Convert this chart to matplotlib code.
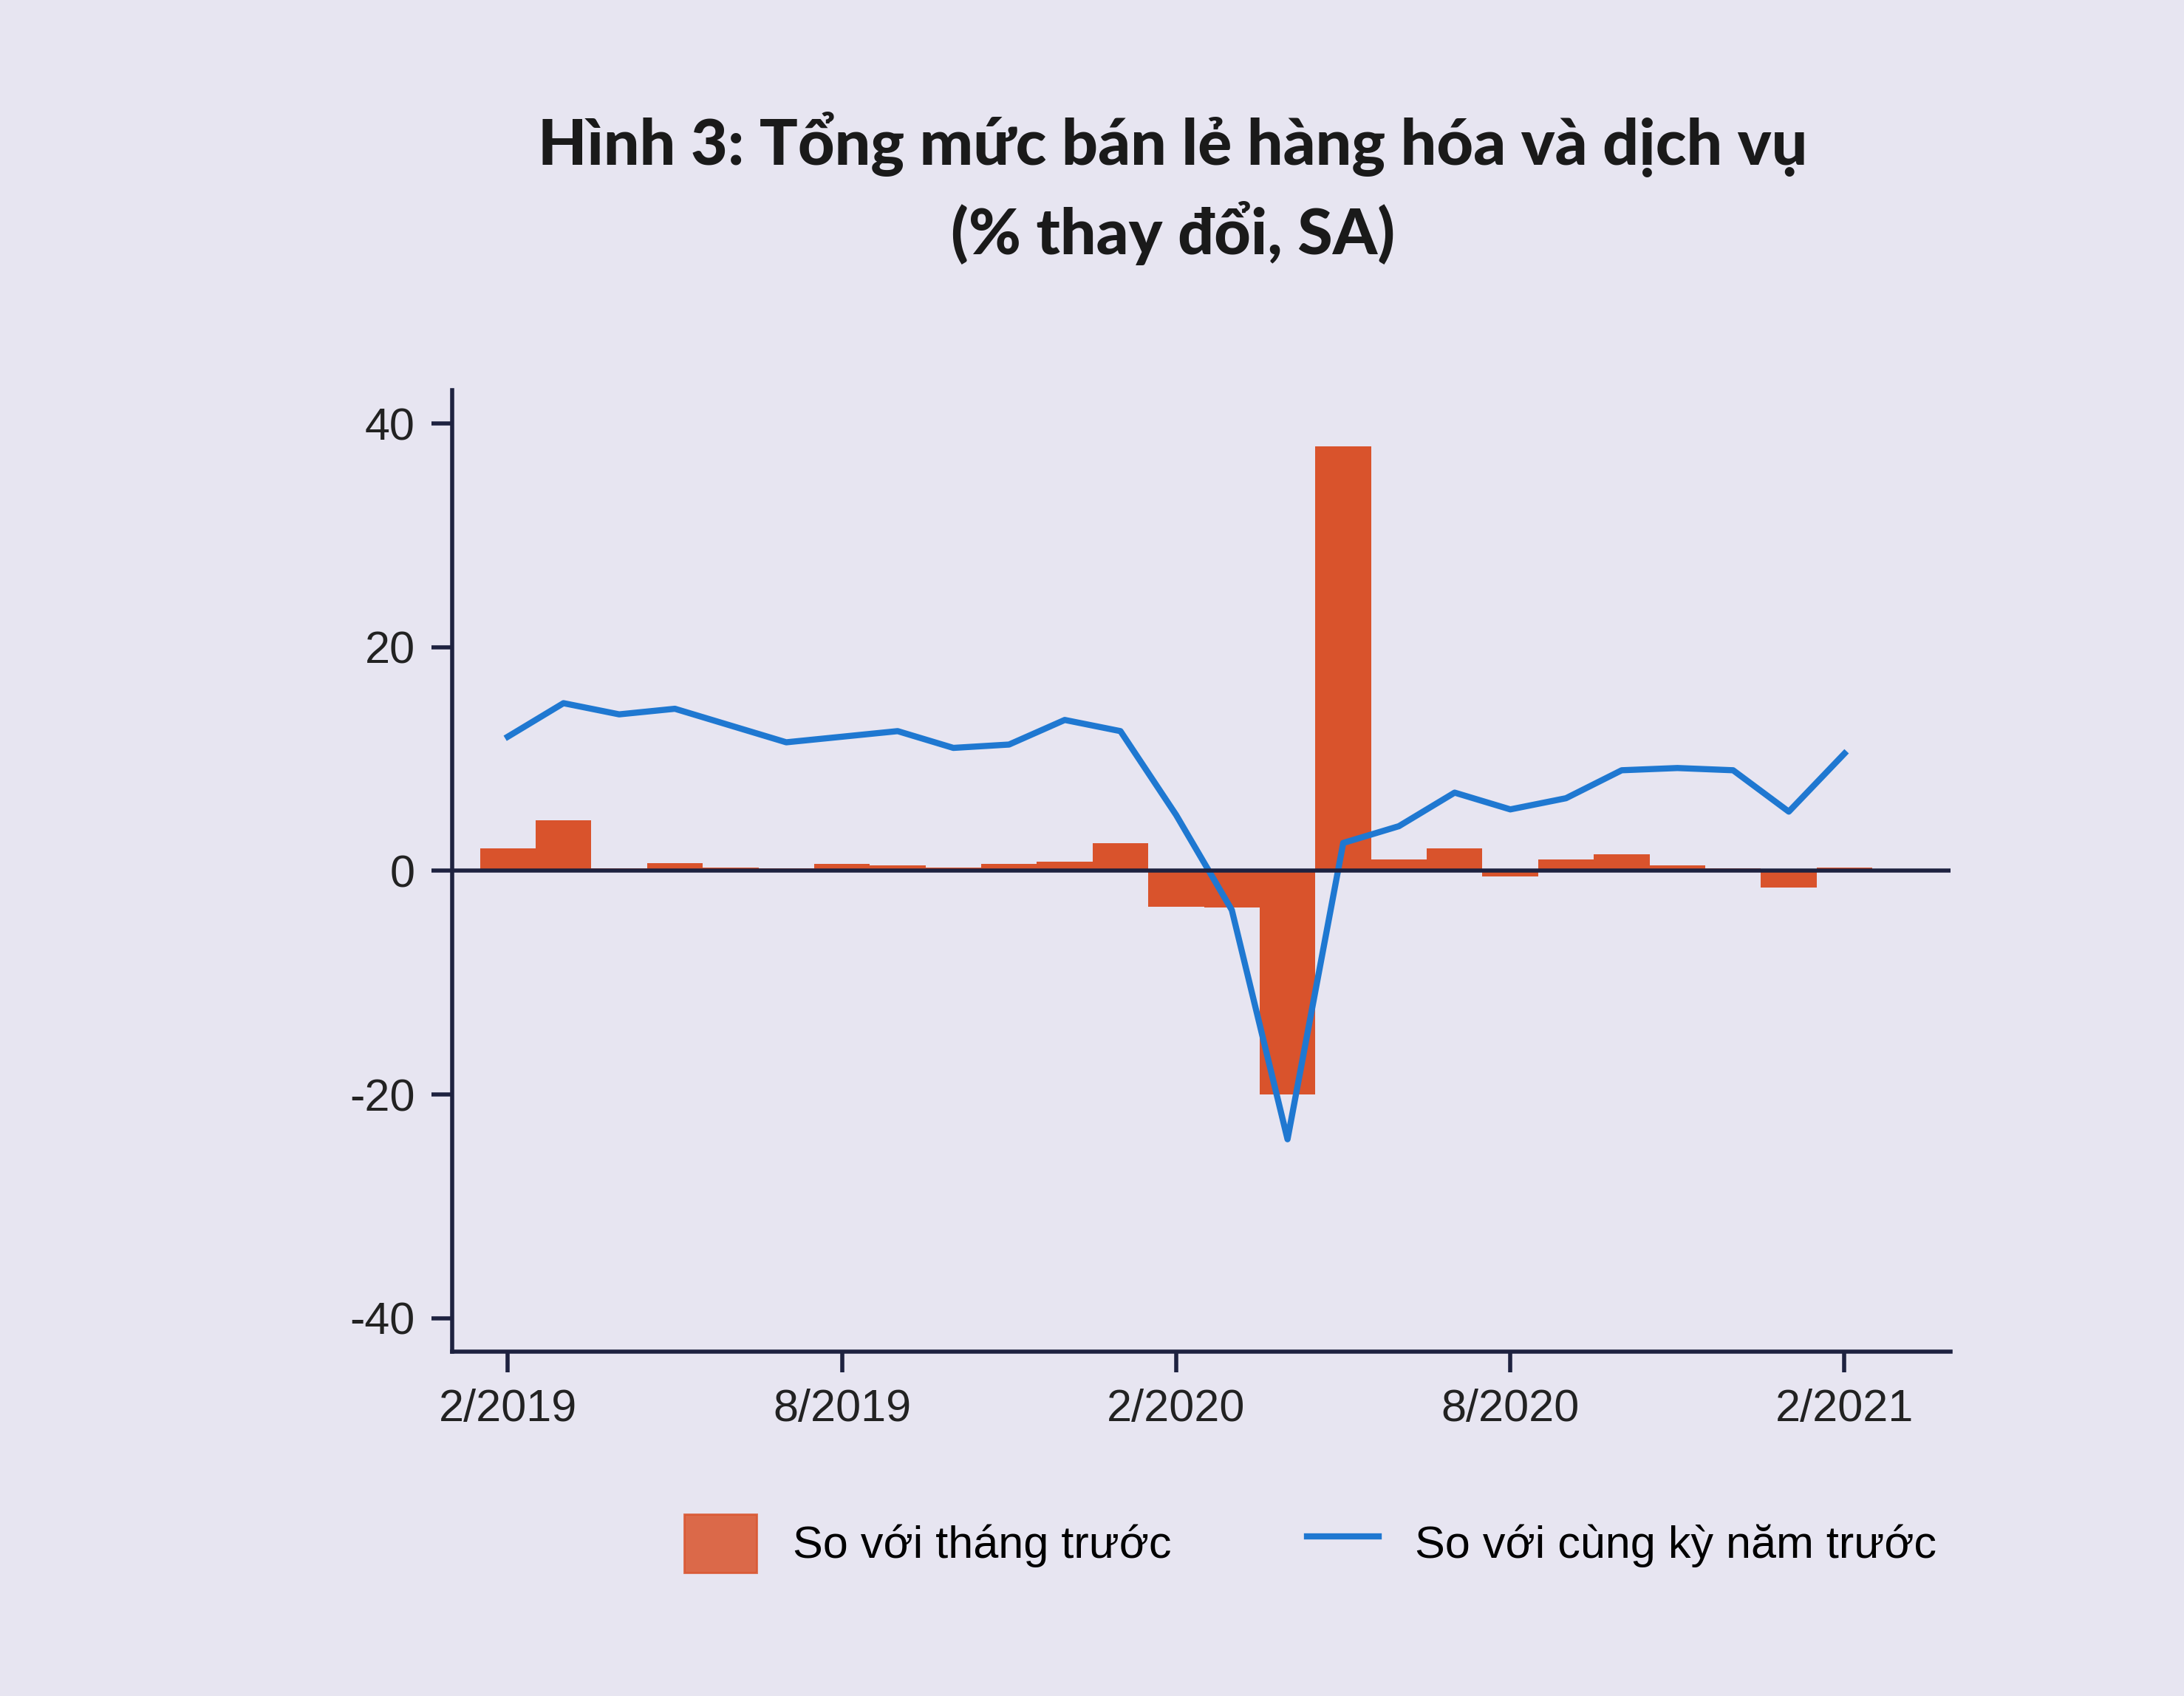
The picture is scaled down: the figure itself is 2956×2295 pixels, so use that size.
import matplotlib
matplotlib.use("Agg")
import matplotlib.pyplot as plt
from matplotlib.patches import Patch
from matplotlib.lines import Line2D

months = ["2/2019","3/2019","4/2019","5/2019","6/2019","7/2019","8/2019","9/2019","10/2019","11/2019","12/2019",
          "1/2020","2/2020","3/2020","4/2020","5/2020","6/2020","7/2020","8/2020","9/2020","10/2020","11/2020","12/2020",
          "1/2021","2/2021"]
mom = [2.0, 4.5, 0.2, 0.7, 0.3, 0.2, 0.6, 0.5, 0.3, 0.6, 0.8,
       2.5, -3.2, -3.3, -20.0, 38.0, 1.0, 2.0, -0.5, 1.0, 1.5, 0.5, 0.2, -1.5, 0.3]
yoy = [12.0, 15.0, 14.0, 14.5, 13.0, 11.5, 12.0, 12.5, 11.0, 11.3, 13.5,
       12.5, 5.0, -3.5, -24.0, 2.5, 4.0, 7.0, 5.5, 6.5, 9.0, 9.2, 9.0, 5.3, 10.5]
tick_labels = ["2/2019", "8/2019", "2/2020", "8/2020", "2/2021"]
yticks = [-40, -20, 0, 20, 40]

bg = "#e7e5f1"
fig = plt.figure(figsize=(14.78, 11.475), dpi=200, facecolor=bg)
ax = fig.add_axes([0.207, 0.203, 0.686, 0.567], facecolor=bg)
x = list(range(len(months)))
ax.bar(x, mom, width=1.0, color="#d9532c", zorder=2)
ax.plot(x, yoy, color="#1f78d1", lw=3, zorder=3)
ax.axhline(0, color="#1e2240", lw=2, zorder=4)
ax.set_xlim(-1, 25.9)
ax.set_ylim(-43, 43)
ax.set_yticks(yticks)
ax.set_yticklabels([str(v) for v in yticks], fontsize=22, fontfamily="Liberation Sans")
ax.set_xticks([months.index(t) for t in tick_labels])
ax.set_xticklabels(tick_labels, fontsize=22, fontfamily="Liberation Sans")
for s in ["top", "right"]:
    ax.spines[s].set_visible(False)
for s in ["left", "bottom"]:
    ax.spines[s].set_color("#1e2240")
    ax.spines[s].set_linewidth(2)
ax.tick_params(axis="both", length=10, width=2, color="#1e2240", labelcolor="#222222", pad=8)
fig.text(0.537, 0.889, "Hình 3: Tổng mức bán lẻ hàng hóa và dịch vụ\n(% thay đổi, SA)",
         ha="center", va="center", fontsize=31, fontweight="black", fontfamily="Lato",
         color="#1a1a1a", linespacing=1.45)
handles = [Patch(color="#d9532c", alpha=0.85), Line2D([0], [0], color="#1f78d1", lw=3)]
fig.legend(handles, ["So với tháng trước", "So với cùng kỳ năm trước"], loc="center",
           bbox_to_anchor=(0.6, 0.09), ncol=2, frameon=False,
           prop={"family": "Liberation Sans", "size": 22}, handlelength=1.6, handleheight=1.6,
           columnspacing=3)
fig.savefig("out.png", dpi=200, facecolor=bg)
